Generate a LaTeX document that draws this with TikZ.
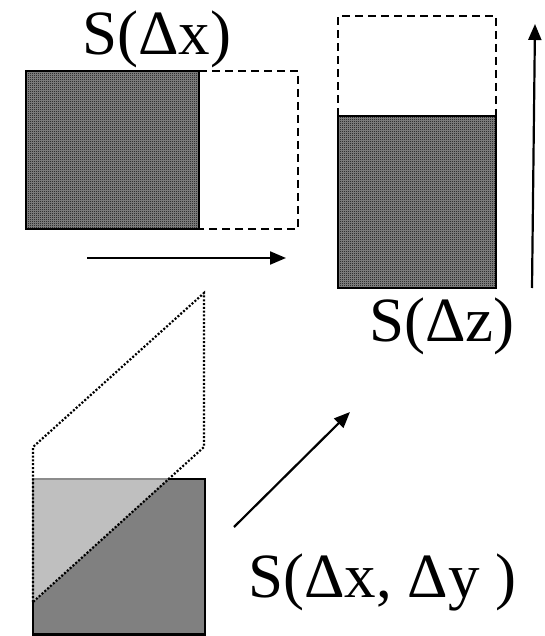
\documentclass[tikz,border=0pt]{standalone}
\usepackage{fontspec}
\setmainfont{Liberation Serif}
\usetikzlibrary{arrows.meta,patterns}
\pgfdeclarepatternformonly{checker}{\pgfqpoint{0pt}{0pt}}{\pgfqpoint{2pt}{2pt}}{\pgfqpoint{2pt}{2pt}}{%
  \pgfpathrectangle{\pgfqpoint{0pt}{0pt}}{\pgfqpoint{1pt}{1pt}}%
  \pgfpathrectangle{\pgfqpoint{1pt}{1pt}}{\pgfqpoint{1pt}{1pt}}%
  \pgfusepath{fill}}
\definecolor{darkg}{gray}{0.5}
\definecolor{lightg}{gray}{0.75}
\definecolor{edgeg}{gray}{0.55}
\definecolor{checkbg}{gray}{0.55}
\tikzset{
  solidbox/.style={draw=black, line width=2.5pt, preaction={fill=checkbg}, pattern=checker, pattern color=black},
  dashbox/.style={draw=black, line width=2pt, dash pattern=on 8pt off 5pt},
  dotbox/.style={draw=black, line width=2.2pt, dash pattern=on 2pt off 1.8pt},
  arr/.style={draw=black, line width=2.2pt, -{Triangle[length=16pt,width=13pt]}},
  lbl/.style={font=\fontsize{63}{63}\selectfont, inner sep=0pt, anchor=base west},
}
\begin{document}
\begin{tikzpicture}[x=1pt,y=-1pt]
\useasboundingbox[fill=white] (0,0) rectangle (545,636);
% top-left: S(dx)
\node[lbl] (lx) at (82,55) {S(Δx)};
\draw[dashbox] (199,71) -- (298,71) -- (298,229) -- (199,229);
\draw[solidbox] (26,71) rectangle (199,229);
\coordinate (ax1) at (87,258);
\coordinate (ax2) at (286,258);
\draw[arr] (ax1) -- (ax2);
% top-right: S(dz)
\draw[dashbox] (338,116) -- (338,16) -- (496,16) -- (496,116);
\draw[solidbox] (338,116) rectangle (496,288);
\coordinate (az1) at (532,288);
\coordinate (az2) at (535,24);
\draw[arr] (az1) -- (az2);
\node[lbl] (lz) at (369,341) {S(Δz)};
% bottom-left: S(dx,dy)
\fill[darkg] (33,479) rectangle (205,635);
\fill[lightg] (33,479) -- (168,479) -- (33,602) -- cycle;
\draw[edgeg, line width=2.5pt] (33,602) -- (33,479) -- (168,479);
\draw[black, line width=2.5pt] (168,479) -- (205,479) -- (205,634.5) -- (33,634.5) -- (33,602);
\draw[dotbox] (33,602) -- (33,447) -- (204,293) -- (204,447) -- cycle;
\coordinate (ad1) at (234,527);
\coordinate (ad2) at (350,412);
\draw[arr] (ad1) -- (ad2);
\node[lbl] (lxy) at (248,597) {S(Δx, Δy )};
\end{tikzpicture}
\end{document}
